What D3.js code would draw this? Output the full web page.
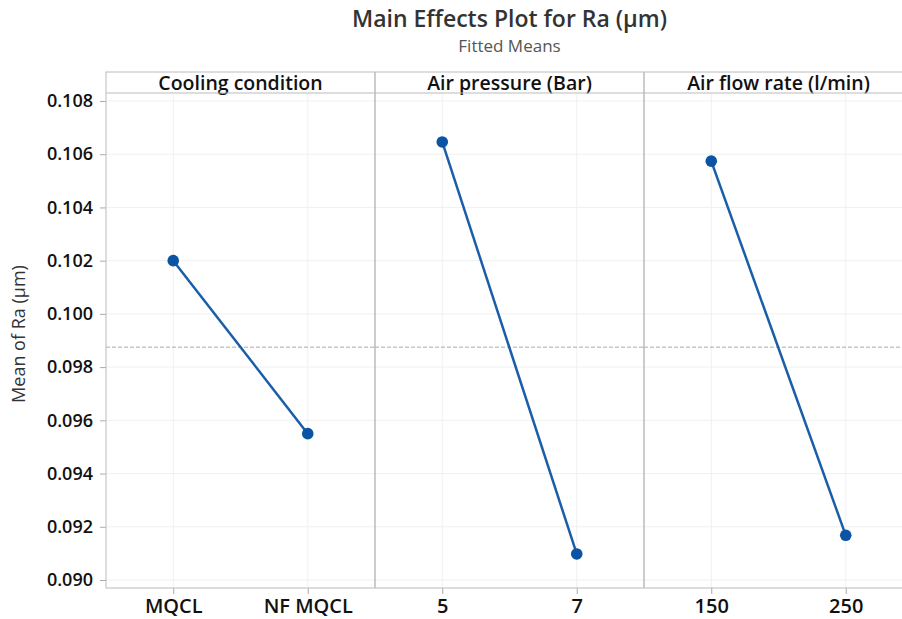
<!DOCTYPE html>
<html>
<head>
<meta charset="utf-8">
<script src="https://cdn.jsdelivr.net/npm/d3@7/dist/d3.min.js"></script>
<style>
  body { margin: 0; background: #fff; overflow: hidden; }
  text { font-family: "Open Sans", "Noto Sans", sans-serif; }
</style>
</head>
<body>
<div class="chart"></div>
<script>
// data
var factors = ["Cooling condition", "Air pressure (Bar)", "Air flow rate (l/min)"];
var levels = [["MQCL", "NF MQCL"], ["5", "7"], ["150", "250"]];
var means = [[0.1020, 0.0955], [0.10646, 0.09098], [0.10574, 0.09168]];
var grandMean = 0.09875;
var yTicks = [0.090, 0.092, 0.094, 0.096, 0.098, 0.100, 0.102, 0.104, 0.106, 0.108];

var width = 902, height = 619;
// the right panel runs past the edge of the picture, as in the original
var margin = { left: 106, right: -11, top: 72, bottom: 31 };
var headerH = 21;

var svg = d3.select(".chart")
  .append("svg")
    .attr("width", width)
    .attr("height", height);

var plotTop = margin.top + headerH,
    plotBottom = height - margin.bottom,
    plotLeft = margin.left,
    plotRight = width - margin.right;

var midX = (plotLeft + plotRight) / 2;

// titles
svg.append("text")
  .attr("x", midX).attr("y", 27)
  .attr("text-anchor", "middle")
  .attr("font-size", "23px")
  .attr("font-weight", 600)
  .attr("fill", "#333")
  .text("Main Effects Plot for Ra (µm)");

svg.append("text")
  .attr("x", midX).attr("y", 52)
  .attr("text-anchor", "middle")
  .attr("font-size", "17px")
  .attr("fill", "#555")
  .text("Fitted Means");

var y = d3.scaleLinear()
  .domain([0.08970, 0.10830])
  .range([plotBottom, plotTop]);

var panels = d3.scaleBand()
  .domain(factors)
  .range([plotLeft, plotRight])
  .paddingInner(0);

var pw = panels.bandwidth();

// y axis
var yAxis = d3.axisLeft(y)
  .tickValues(yTicks)
  .tickFormat(d3.format(".3f"))
  .tickSize(6)
  .tickPadding(7);

var yg = svg.append("g")
  .attr("transform", "translate(" + plotLeft + ",0)")
  .call(yAxis);
yg.select(".domain").remove();
yg.selectAll("line").attr("stroke", "#aaa");
yg.selectAll("text")
  .attr("font-size", "18px")
  .attr("font-weight", 600)
  .attr("fill", "#111");

svg.append("text")
  .attr("transform", "translate(25," + 334 + ") rotate(-90)")
  .attr("text-anchor", "middle")
  .attr("font-size", "18px")
  .attr("fill", "#333")
  .text("Mean of Ra (µm)");

factors.forEach(function(f, i) {
  var x0 = panels(f);
  var x = d3.scalePoint()
    .domain(levels[i])
    .range([x0 + pw * 0.25, x0 + pw * 0.75]);

  var g = svg.append("g");

  // grid
  g.selectAll(".hgrid")
    .data(yTicks)
    .enter().append("line")
      .attr("x1", x0).attr("x2", x0 + pw)
      .attr("y1", function(d) { return y(d); })
      .attr("y2", function(d) { return y(d); })
      .attr("stroke", "#f0f0f0");

  g.selectAll(".vgrid")
    .data(levels[i])
    .enter().append("line")
      .attr("x1", function(d) { return x(d); })
      .attr("x2", function(d) { return x(d); })
      .attr("y1", plotTop).attr("y2", plotBottom)
      .attr("stroke", "#f0f0f0");

  // grand mean reference
  g.append("line")
    .attr("x1", x0).attr("x2", x0 + pw)
    .attr("y1", y(grandMean)).attr("y2", y(grandMean))
    .attr("stroke", "#aaa")
    .attr("stroke-dasharray", "4,2");

  // x axis
  var xAxis = d3.axisBottom(x).tickSize(6).tickPadding(5);
  var xg = g.append("g")
    .attr("transform", "translate(0," + plotBottom + ")")
    .call(xAxis);
  xg.select(".domain").remove();
  xg.selectAll("line").attr("stroke", "#aaa");
  xg.selectAll("text")
    .attr("font-size", "20px")
    .attr("font-weight", 600)
    .attr("fill", "#111");

  // header
  g.append("text")
    .attr("x", x0 + pw / 2)
    .attr("y", margin.top + 18)
    .attr("text-anchor", "middle")
    .attr("font-size", "19.5px")
    .attr("font-weight", 600)
    .attr("fill", "#111")
    .text(f);

  // line + points
  var pts = levels[i].map(function(l, j) { return { l: l, v: means[i][j] }; });
  g.append("path")
    .datum(pts)
    .attr("fill", "none")
    .attr("stroke", "#1a5ea8")
    .attr("stroke-width", 2.5)
    .attr("d", d3.line()
      .x(function(d) { return x(d.l); })
      .y(function(d) { return y(d.v); }));

  g.selectAll("circle")
    .data(pts)
    .enter().append("circle")
      .attr("cx", function(d) { return x(d.l); })
      .attr("cy", function(d) { return y(d.v); })
      .attr("r", 5.8)
      .attr("fill", "#0b53a3");

  // panel divider
  if (i > 0) {
    svg.append("line")
      .attr("x1", x0).attr("x2", x0)
      .attr("y1", margin.top).attr("y2", plotBottom)
      .attr("stroke", "#aaa")
      .attr("stroke-width", 1.2);
  }
});

// frame and header line
svg.append("rect")
  .attr("x", plotLeft).attr("y", margin.top)
  .attr("width", plotRight - plotLeft)
  .attr("height", plotBottom - margin.top)
  .attr("fill", "none")
  .attr("stroke", "#bbb");

svg.append("line")
  .attr("x1", plotLeft).attr("x2", plotRight)
  .attr("y1", plotTop).attr("y2", plotTop)
  .attr("stroke", "#bbb");
</script>
</body>
</html>
